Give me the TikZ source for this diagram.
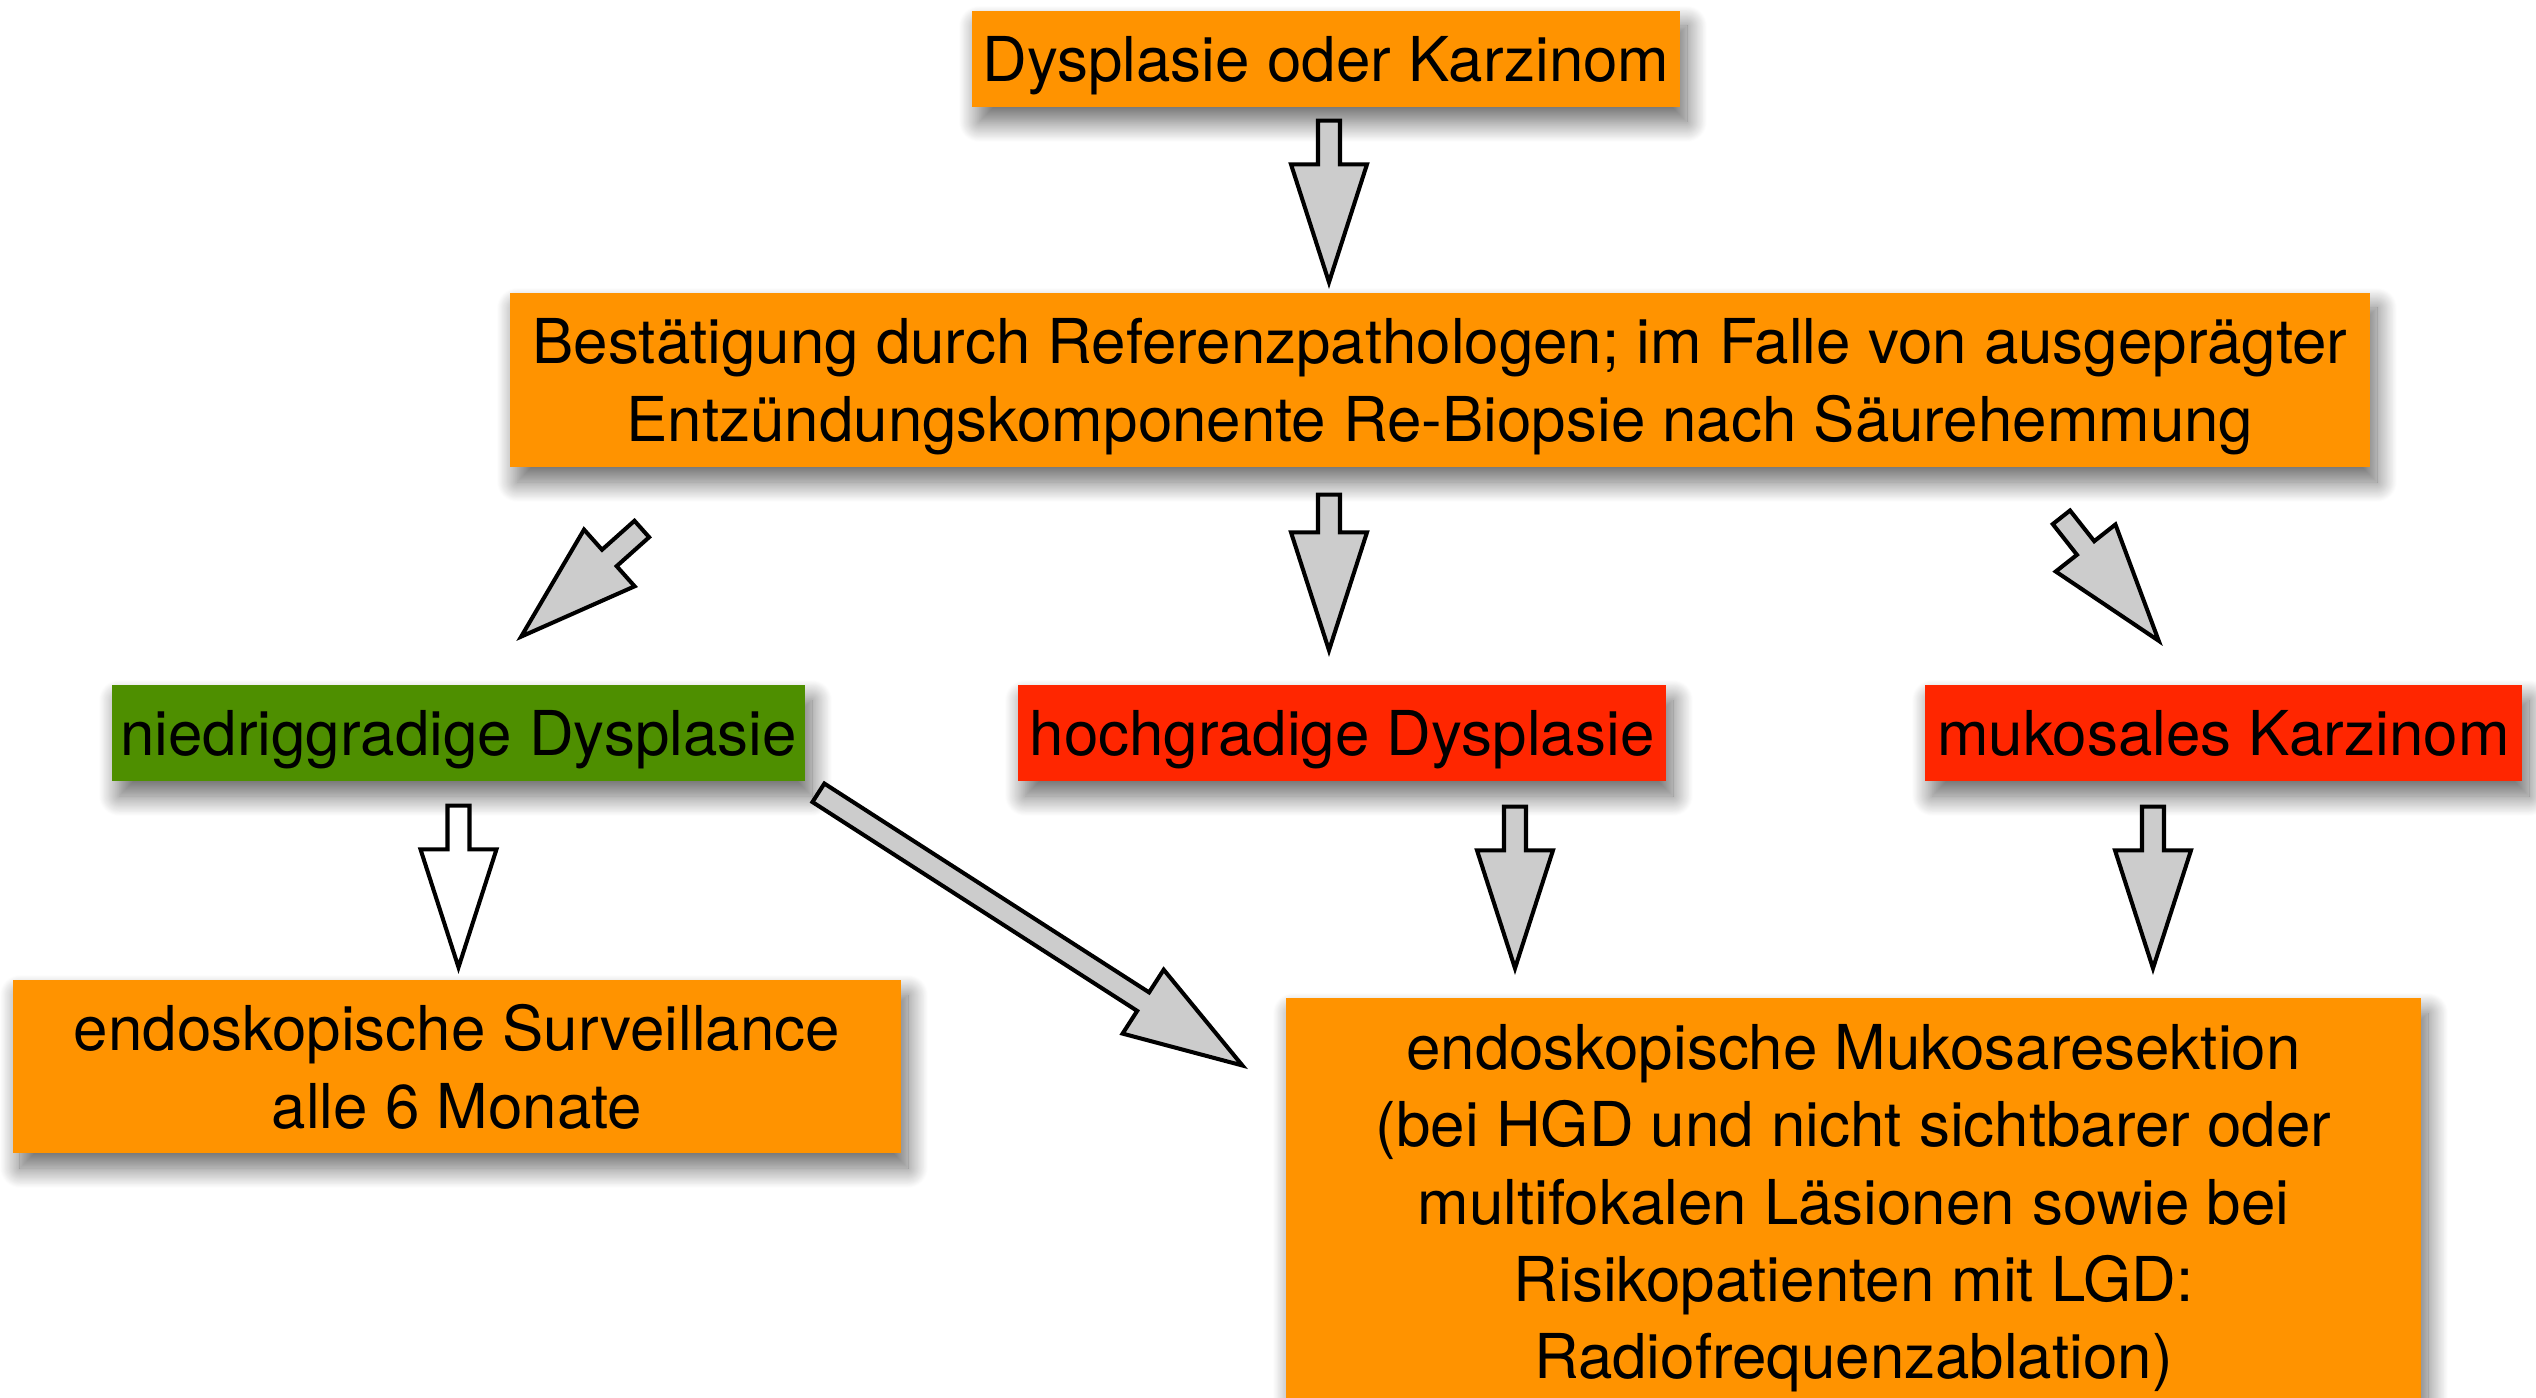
\documentclass[tikz,border=0pt]{standalone}
\usepackage{fontspec}
\setmainfont{TeX Gyre Heros}
\usepackage{tikz}
\usetikzlibrary{calc}
\usetikzlibrary{shadows.blur}
\definecolor{boxorange}{HTML}{FF9300}
\definecolor{boxgreen}{HTML}{4E8F00}
\definecolor{boxred}{HTML}{FF2600}
\definecolor{arrowgray}{HTML}{CCCCCC}

\begin{document}
\begin{tikzpicture}[box/.style={rectangle, inner sep=0pt, align=center, text depth=0pt, font=\fontsize{17.6}{22}\selectfont,
				blur shadow={shadow xshift=0.07cm, shadow yshift=-0.15cm, shadow blur radius=0.2cm, shadow blur steps=24, shadow opacity=60}},
				fat/.style={draw=black, line width=1.15pt, fill=arrowgray, line join=miter,
				to path={let \p1=($(\tikztotarget)-(\tikztostart)$), \n1={atan2(\y1,\x1)}, \n2={veclen(\x1,\y1)} in
					($(\tikztostart)+(\n1+90:0.11)$)
					-- ($(\tikztostart)+(\n1:{\n2-1.18cm})+(\n1+90:0.11)$)
					-- ($(\tikztostart)+(\n1:{\n2-1.18cm})+(\n1+90:0.38)$)
					-- (\tikztotarget)
					-- ($(\tikztostart)+(\n1:{\n2-1.18cm})+(\n1-90:0.38)$)
					-- ($(\tikztostart)+(\n1:{\n2-1.18cm})+(\n1-90:0.11)$)
					-- ($(\tikztostart)+(\n1-90:0.11)$) -- cycle}}]
				\useasboundingbox (0,0) rectangle (25.36,-13.98);
				
				\node[box, fill=boxorange, minimum width=7.08cm, minimum height=0.96cm](node1) at (13.26, -0.59) {Dysplasie oder Karzinom};
				
				\node[box, fill=boxorange, minimum width=18.6cm, minimum height=1.74cm](node2) at (14.40, -3.80) {Bestätigung durch Referenzpathologen; im Falle von ausgeprägter\\Entzündungskomponente Re-Biopsie nach Säurehemmung};
				
				\node[box, fill=boxgreen, minimum width=6.93cm, minimum height=0.96cm](node3) at (4.585, -7.33) {niedriggradige Dysplasie};
				\node[box, fill=boxred, minimum width=6.48cm, minimum height=0.96cm](node4) at (13.42, -7.33) {hochgradige Dysplasie};
				\node[box, fill=boxred, minimum width=5.97cm, minimum height=0.96cm](node5) at (22.235, -7.33) {mukosales Karzinom};
				
				\node[box, fill=boxorange, minimum width=8.88cm, minimum height=1.73cm](node6) at (4.57, -10.665) {endoskopische Surveillance\\alle 6 Monate};
				\node[box, fill=boxorange, minimum width=11.35cm, minimum height=4.07cm](node7) at (18.535, -12.015) {endoskopische Mukosaresektion\\(bei HGD und nicht sichtbarer oder\\multifokalen Läsionen sowie bei\\Risikopatienten mit LGD:\\Radiofrequenzablation)};
				
				% arrow ends
				\coordinate (a1) at ($(node1.south)+(0.03,-0.13)$);
				\coordinate (a2) at ($(a1 |- node2.north)+(0,0.10)$);
				\coordinate (b1) at ($(node2.south)+(-1.11,-0.27)$);
				\coordinate (b2) at ($(b1 |- node4.north)+(0,0.34)$);
				\coordinate (c1) at ($(node2.south west)+(1.325,-0.613)$);
				\coordinate (c2) at ($(node3.north)+(0.627,0.477)$);
				\coordinate (d1) at ($(node2.south east)+(-3.093,-0.496)$);
				\coordinate (d2) at ($(node5.north)+(-0.648,0.435)$);
				\coordinate (e1) at ($(node3.south)+(0,-0.24)$);
				\coordinate (e2) at ($(e1 |- node6.north)+(0,0.12)$);
				\coordinate (f1) at ($(node4.south)+(1.73,-0.25)$);
				\coordinate (f2) at ($(f1 |- node7.north)+(0,0.29)$);
				\coordinate (g1) at ($(node5.south)+(-0.705,-0.25)$);
				\coordinate (g2) at ($(g1 |- node7.north)+(0,0.29)$);
				\coordinate (h1) at ($(node3.south east)+(0.127,-0.111)$);
				\coordinate (h2) at ($(node7.north west)+(-0.429,-0.682)$);
				
				\draw[fat] (a1) to (a2);
				\draw[fat] (b1) to (b2);
				\draw[fat] (c1) to (c2);
				\draw[fat] (d1) to (d2);
				\draw[fat, fill=white] (e1) to (e2);
				\draw[fat] (f1) to (f2);
				\draw[fat] (g1) to (g2);
				\draw[fat] (h1) to (h2);
			\end{tikzpicture}
\end{document}
